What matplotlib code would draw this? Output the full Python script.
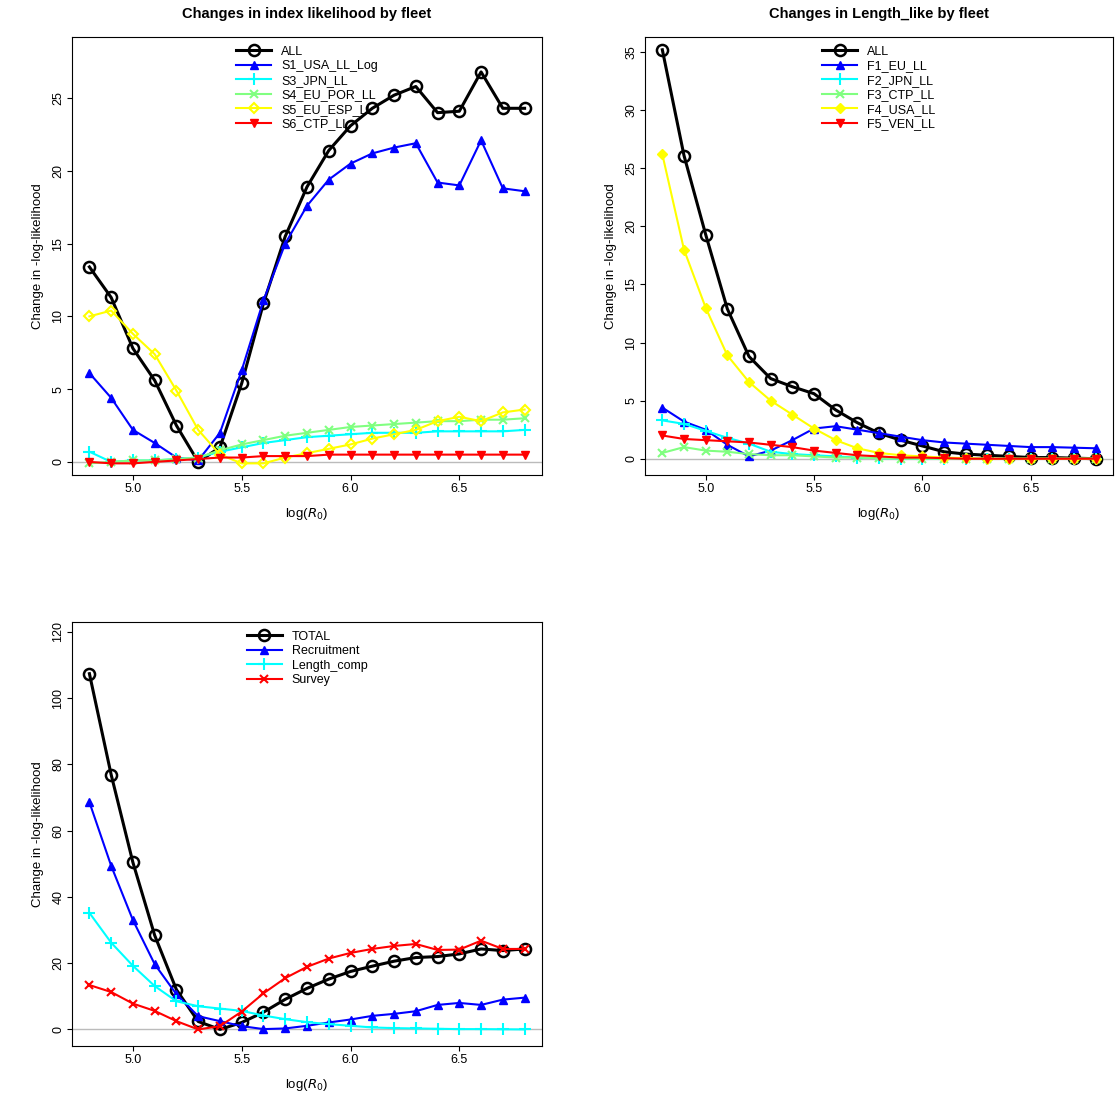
import matplotlib
matplotlib.use("Agg")
import matplotlib.pyplot as plt
import numpy as np

x = [4.8,4.9,5.0,5.1,5.2,5.3,5.4,5.5,5.6,5.7,5.8,5.9,6.0,6.1,6.2,6.3,6.4,6.5,6.6,6.7,6.8]

idx_all = [13.4,11.3,7.8,5.6,2.5,0.0,1.0,5.4,10.9,15.5,18.9,21.4,23.1,24.3,25.2,25.8,24.0,24.1,26.8,24.3,24.3]
idx_s1 = [6.1,4.4,2.2,1.3,0.3,0.1,2.0,6.3,11.1,15.0,17.6,19.4,20.5,21.2,21.6,21.9,19.2,19.0,22.1,18.8,18.6]
idx_s3 = [0.7,0.0,0.1,0.1,0.2,0.3,0.7,1.0,1.3,1.5,1.7,1.8,1.9,2.0,2.0,2.0,2.1,2.1,2.1,2.1,2.2]
idx_s4 = [-0.1,0.0,0.1,0.1,0.2,0.3,0.8,1.2,1.5,1.8,2.0,2.2,2.4,2.5,2.6,2.7,2.8,2.8,2.9,2.9,3.0]
idx_s5 = [10.0,10.4,8.8,7.4,4.9,2.2,0.5,-0.1,-0.1,0.3,0.6,0.9,1.2,1.6,1.9,2.2,2.8,3.1,2.8,3.4,3.6]
idx_s6 = [0.0,-0.1,-0.1,0.0,0.1,0.2,0.3,0.3,0.4,0.4,0.4,0.5,0.5,0.5,0.5,0.5,0.5,0.5,0.5,0.5,0.5]

len_all = [35.2,26.1,19.3,12.9,8.8,6.9,6.2,5.6,4.2,3.1,2.2,1.6,1.1,0.6,0.4,0.3,0.2,0.1,0.1,0.05,0.0]
len_f1 = [4.4,3.2,2.5,1.2,0.2,0.7,1.6,2.6,2.8,2.5,2.2,1.9,1.6,1.4,1.3,1.2,1.1,1.0,1.0,0.95,0.9]
len_f2 = [3.3,3.0,2.4,1.8,1.3,0.6,0.4,0.3,0.2,0.1,0.05,0.0,0.0,0.0,0.0,0.0,0.0,0.0,0.0,0.0,0.0]
len_f3 = [0.5,1.0,0.7,0.6,0.4,0.3,0.3,0.2,0.1,0.1,0.05,0.0,0.0,0.0,0.0,0.0,0.0,0.0,0.0,0.0,0.0]
len_f4 = [26.2,18.0,13.0,8.9,6.6,5.0,3.8,2.6,1.6,0.9,0.5,0.3,0.2,0.1,0.05,0.0,0.0,0.0,0.0,0.0,0.0]
len_f5 = [2.0,1.7,1.6,1.5,1.4,1.2,1.0,0.7,0.5,0.3,0.2,0.1,0.1,0.05,0.0,0.0,0.0,0.0,0.0,0.0,0.0]

tot = [107.4,76.9,50.4,28.4,12.0,2.4,0.0,2.1,5.2,9.1,12.4,15.2,17.5,19.1,20.6,21.7,22.0,22.8,24.3,23.8,24.3]
recr = [68.6,49.4,33.0,19.7,10.6,4.0,2.5,1.0,0.1,0.3,1.1,2.1,3.0,4.1,4.7,5.5,7.4,8.0,7.4,9.0,9.6]
lcomp = [35.2,26.2,19.2,13.1,8.5,7.0,6.3,5.6,4.2,3.1,2.2,1.6,1.1,0.6,0.4,0.3,0.2,0.1,0.1,0.05,0.0]
surv = [13.4,11.3,7.8,5.6,2.5,0.0,1.0,5.4,10.9,15.5,18.9,21.4,23.1,24.3,25.2,25.8,24.0,24.1,26.8,24.3,24.3]

plt.rcParams['font.family'] = ['Liberation Sans', 'DejaVu Sans']
fig = plt.figure(figsize=(11.15, 11.15), dpi=100)
W = 1115.0
def ax_at(l, t, r, b):
    return fig.add_axes([l/W, 1-b/W, (r-l)/W, (b-t)/W])

def style(ax, title, ylim, yticks):
    ax.axhline(0, color='#bbbbbb', lw=1, zorder=0)
    ax.set_xlim(4.72, 6.88)
    ax.set_ylim(*ylim)
    ax.set_xticks([5.0, 5.5, 6.0, 6.5])
    ax.set_yticks(yticks)
    ax.tick_params(labelsize=9, pad=2)
    plt.setp(ax.get_yticklabels(), rotation=90, va='center')
    ax.set_xlabel(r'log($R_0$)', fontsize=9.5, labelpad=8)
    ax.set_ylabel('Change in -log-likelihood', fontsize=9.5, labelpad=6)
    if title:
        ax.set_title(title, fontsize=10.5, fontweight='bold', pad=14)
    ax.legend(loc='upper center', frameon=False, fontsize=9, handlelength=2.8,
              labelspacing=0.2, borderaxespad=0.3)

# panel 1
ax = ax_at(72, 37, 542, 475)
ax.plot(x, idx_all, color='black', lw=2.2, marker='o', mfc='none', ms=8, mew=1.8, label='ALL')
ax.plot(x, idx_s1, color='blue', lw=1.5, marker='^', ms=6, label='S1_USA_LL_Log')
ax.plot(x, idx_s3, color='cyan', lw=1.5, marker='+', ms=8, mew=1.5, label='S3_JPN_LL')
ax.plot(x, idx_s4, color='#80ff80', lw=1.5, marker='x', ms=6, mew=1.5, label='S4_EU_POR_LL')
ax.plot(x, idx_s5, color='yellow', lw=1.5, marker='D', mfc='none', ms=5.5, mew=1.5, label='S5_EU_ESP_LL')
ax.plot(x, idx_s6, color='red', lw=1.5, marker='v', ms=6, label='S6_CTP_LL')
style(ax, 'Changes in index likelihood by fleet', (-0.9, 29.2), [0,5,10,15,20,25])

# panel 2
ax = ax_at(645, 37, 1113, 475)
ax.plot(x, len_all, color='black', lw=2.2, marker='o', mfc='none', ms=8, mew=1.8, label='ALL')
ax.plot(x, len_f1, color='blue', lw=1.5, marker='^', ms=6, label='F1_EU_LL')
ax.plot(x, len_f2, color='cyan', lw=1.5, marker='+', ms=8, mew=1.5, label='F2_JPN_LL')
ax.plot(x, len_f3, color='#80ff80', lw=1.5, marker='x', ms=6, mew=1.5, label='F3_CTP_LL')
ax.plot(x, len_f4, color='yellow', lw=1.5, marker='D', ms=5.5, label='F4_USA_LL')
ax.plot(x, len_f5, color='red', lw=1.5, marker='v', ms=6, label='F5_VEN_LL')
style(ax, 'Changes in Length_like by fleet', (-1.4, 36.3), [0,5,10,15,20,25,30,35])

# panel 3
ax = ax_at(72, 622, 542, 1046)
ax.plot(x, tot, color='black', lw=2.2, marker='o', mfc='none', ms=8, mew=1.8, label='TOTAL')
ax.plot(x, recr, color='blue', lw=1.5, marker='^', ms=6, label='Recruitment')
ax.plot(x, lcomp, color='cyan', lw=1.5, marker='+', ms=8, mew=1.5, label='Length_comp')
ax.plot(x, surv, color='red', lw=1.5, marker='x', ms=6, mew=1.5, label='Survey')
style(ax, None, (-5, 123), [0,20,40,60,80,100,120])

fig.savefig('out.png', dpi=100)
